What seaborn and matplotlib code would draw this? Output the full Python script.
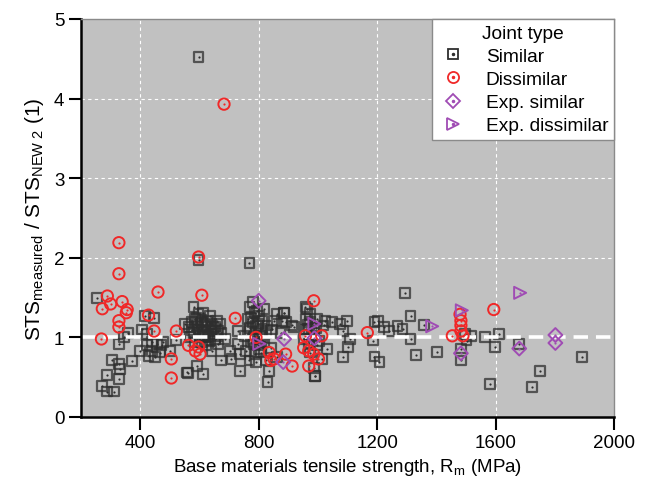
import matplotlib
matplotlib.use("Agg")
import matplotlib.pyplot as plt
import seaborn as sns
import pandas as pd
from matplotlib.lines import Line2D
from matplotlib.legend_handler import HandlerTuple

# ---------------- data ----------------
similar_x = [597, 597, 769,
             253, 359, 344, 328, 306, 328, 333, 372, 287, 328, 272, 287, 311,
             417, 447, 406, 422, 439, 456, 422, 439, 467, 428, 450, 472, 500, 522, 561, 478, 400,
             580, 597, 613, 636, 574, 591, 608, 624, 641, 658, 669, 563, 580, 602, 619, 641, 663, 674,
             636, 652, 608, 624, 641, 674, 702, 708, 558, 591, 613, 552, 586, 630, 569, 663, 686,
             597, 652, 613, 586, 730, 736, 736, 730,
             590, 605, 620, 645, 600, 615, 630, 575, 660, 640,
             769, 786, 802, 819, 763, 780, 797, 813, 830, 769, 791, 808, 824, 774, 797, 819, 758,
             786, 808, 769, 791, 863, 886, 891, 919, 874, 852, 780, 752, 841, 824, 863, 836, 830,
             775, 790, 805, 780, 795, 812, 770, 800, 785, 845,
             886, 913, 880,
             963, 974, 958, 974, 997, 969, 986, 952, 969, 997, 974, 986, 991, 958, 1019,
             965, 980, 995, 960, 1005,
             1024, 1047, 1074, 1097, 1086, 1108, 1102, 1030, 1086, 1013, 1191, 1191, 991,
             1294, 1313, 1202, 1224, 1241, 1269, 1286, 1186, 1313, 1330, 1402, 1358, 1208,
             1497, 1519, 1502, 1483, 1483, 1563, 1611, 1597, 1680, 1893, 1750, 1580, 1722]
similar_y = [4.52, 1.97, 1.93,
             1.49, 1.06, 1.00, 0.92, 0.72, 0.67, 0.60, 0.70, 0.53, 0.48, 0.39, 0.32, 0.32,
             1.27, 1.24, 1.10, 1.04, 0.94, 0.92, 0.90, 0.83, 0.81, 0.77, 0.75, 0.90, 0.83, 0.97, 0.55, 0.94, 0.83,
             1.38, 1.29, 1.31, 1.27, 1.19, 1.15, 1.19, 1.13, 1.17, 1.21, 1.17, 1.13, 1.06, 1.06, 1.02, 1.04, 1.08, 1.06,
             0.96, 0.98, 0.94, 0.90, 0.83, 0.71, 0.83, 0.73, 0.56, 0.64, 0.54, 1.17, 1.23, 1.21, 1.00, 0.92, 0.98,
             1.10, 1.13, 1.00, 0.94, 1.08, 0.79, 0.58, 0.92,
             1.25, 1.22, 1.16, 1.12, 1.02, 1.08, 1.00, 1.09, 1.02, 1.10,
             1.38, 1.31, 1.27, 1.36, 1.23, 1.19, 1.17, 1.21, 1.15, 1.08, 1.06, 1.11, 1.06, 0.94, 0.90, 0.94, 0.83,
             0.79, 0.81, 0.71, 0.69, 1.29, 1.31, 1.19, 1.13, 1.06, 1.21, 1.44, 1.02, 0.87, 0.71, 0.75, 0.58, 0.44,
             1.25, 1.14, 1.02, 0.98, 1.33, 1.00, 1.12, 0.85, 0.92, 1.10,
             1.31, 1.15, 1.21,
             1.36, 1.29, 1.23, 1.19, 1.23, 1.11, 1.06, 0.98, 0.92, 0.90, 0.81, 0.62, 0.52, 1.38, 1.15,
             1.16, 1.02, 1.12, 1.10, 0.95,
             1.21, 1.19, 1.17, 1.21, 1.08, 0.98, 0.88, 0.85, 0.75, 0.73, 1.19, 0.76, 0.52,
             1.56, 1.27, 1.21, 1.13, 1.08, 1.14, 1.11, 0.96, 0.98, 0.78, 0.82, 1.16, 0.69,
             1.04, 1.02, 0.96, 0.71, 0.86, 1.01, 1.04, 0.88, 0.92, 0.75, 0.58, 0.41, 0.38]

dissimilar_x = [683, 597, 328, 328, 289, 272, 300, 339, 356, 353, 328, 328, 269,
                460, 428, 447, 522, 505, 505,
                563, 586, 602, 597, 608, 721,
                791, 836, 852, 841, 891, 913,
                986, 958, 952, 969, 986, 1002, 969, 1013,
                1167, 1454, 1480, 1483, 1483, 1483, 1490, 1594]
dissimilar_y = [3.93, 2.01, 2.19, 1.80, 1.52, 1.36, 1.42, 1.45, 1.35, 1.31, 1.21, 1.13, 0.98,
                1.57, 1.28, 1.08, 1.08, 0.73, 0.49,
                0.90, 0.83, 0.79, 0.88, 1.53, 1.24,
                1.00, 0.81, 0.73, 0.71, 0.79, 0.64,
                1.46, 1.02, 0.87, 0.83, 0.79, 0.73, 0.64, 1.02,
                1.06, 1.02, 1.29, 1.21, 1.15, 1.08, 1.02, 1.35]

exp_similar_x = [800, 886, 883, 988, 1483, 1680, 1802, 1802]
exp_similar_y = [1.46, 0.98, 0.69, 0.99, 0.80, 0.86, 1.03, 0.93]

exp_dissimilar_x = [802, 988, 1386, 1486, 1683]
exp_dissimilar_y = [0.92, 1.17, 1.14, 1.34, 1.56]

x_ticks = [400, 800, 1200, 1600, 2000]
y_ticks = [0, 1, 2, 3, 4, 5]

# ---------------- style ----------------
plt.rcParams['font.family'] = ['Liberation Sans', 'DejaVu Sans']
plt.rcParams['mathtext.fontset'] = 'custom'
plt.rcParams['mathtext.rm'] = 'Liberation Sans'
plt.rcParams['mathtext.it'] = 'Liberation Sans:italic'

fig = plt.figure(figsize=(6.47, 4.89), dpi=100)
ax = fig.add_axes([81/647, 71/489, 533/647, 398/489])
ax.set_facecolor('#c1c1c1')

sq_col = '#2e2e2e'
red = '#f02828'
purple = '#a04cb4'

df_s = pd.DataFrame({'x': similar_x, 'y': similar_y})
df_d = pd.DataFrame({'x': dissimilar_x, 'y': dissimilar_y})
df_es = pd.DataFrame({'x': exp_similar_x, 'y': exp_similar_y})
df_ed = pd.DataFrame({'x': exp_dissimilar_x, 'y': exp_dissimilar_y})

# grid
for xv in x_ticks[:-1]:
    ax.axvline(xv, color='white', lw=0.8, ls=(0, (3, 3)), zorder=0.5)
for yv in y_ticks[2:-1]:
    ax.axhline(yv, color='white', lw=0.8, ls=(0, (3, 3)), zorder=0.5)

sns.scatterplot(data=df_s, x='x', y='y', marker='s', s=50, fc='none', ec=sq_col,
                linewidth=1.6, alpha=0.75, ax=ax, zorder=2)
sns.scatterplot(data=df_s, x='x', y='y', marker='o', s=2.5, color=sq_col, linewidth=0,
                ax=ax, zorder=2)

ax.axhline(1, color='white', lw=2.6, ls=(0, (4, 2.2)), zorder=2.5)

sns.scatterplot(data=df_d, x='x', y='y', marker='o', s=66, fc='none', ec=red,
                linewidth=1.4, ax=ax, zorder=3)
sns.scatterplot(data=df_d, x='x', y='y', marker='o', s=2.5, color=red, linewidth=0,
                ax=ax, zorder=3)
sns.scatterplot(data=df_es, x='x', y='y', marker='D', s=50, fc='none', ec=purple,
                linewidth=1.4, ax=ax, zorder=4)
sns.scatterplot(data=df_es, x='x', y='y', marker='o', s=2.5, color=purple, linewidth=0,
                ax=ax, zorder=4)
sns.scatterplot(data=df_ed, x='x', y='y', marker='>', s=75, fc='none', ec=purple,
                linewidth=1.4, ax=ax, zorder=4)
sns.scatterplot(data=df_ed, x='x', y='y', marker='o', s=2.5, color=purple, linewidth=0,
                ax=ax, zorder=4)

ax.set_xlim(200, 2000)
ax.set_ylim(0, 5)
ax.set_xticks(x_ticks)
ax.set_yticks(y_ticks)
ax.tick_params(axis='both', direction='out', length=9, width=1.5, labelsize=13.5,
               color='black', pad=3)

for s in ['left', 'bottom']:
    ax.spines[s].set_color('black')
    ax.spines[s].set_linewidth(1.8)
for s in ['top', 'right']:
    ax.spines[s].set_color('#8a8a8a')
    ax.spines[s].set_linewidth(1.0)

ax.set_xlabel('Base materials tensile strength, R$_{\\mathrm{m}}$ (MPa)', fontsize=13.5, labelpad=4)
ax.set_ylabel('STS$_{\\mathrm{measured}}$ / STS$_{\\mathrm{NEW\\ 2}}$ (1)', fontsize=15, labelpad=6)

def h(marker, col, ms):
    a = Line2D([], [], ls='none', marker=marker, ms=ms, mfc='none', mec=col, mew=1.3)
    b = Line2D([], [], ls='none', marker='o', ms=1.5, mfc=col, mec=col)
    return (a, b)

handles = [h('s', sq_col, 6.5), h('o', red, 8), h('D', purple, 7), h('>', purple, 8.5)]
labels = ['Similar', 'Dissimilar', 'Exp. similar', 'Exp. dissimilar']
leg = ax.legend(handles, labels, title='Joint type', loc='upper right', fontsize=13.8,
                title_fontsize=13.8, frameon=True, fancybox=False, borderaxespad=0,
                handler_map={tuple: HandlerTuple(ndivide=1, pad=0)}, handlelength=1.6,
                labelspacing=0.3, borderpad=0.3, handletextpad=0.9)
leg.get_frame().set_edgecolor('#8a8a8a')
leg.get_frame().set_linewidth(1.0)
leg.get_frame().set_facecolor('white')
leg.get_frame().set_alpha(1)
leg.set_zorder(10)

fig.savefig('out.png', dpi=100)
